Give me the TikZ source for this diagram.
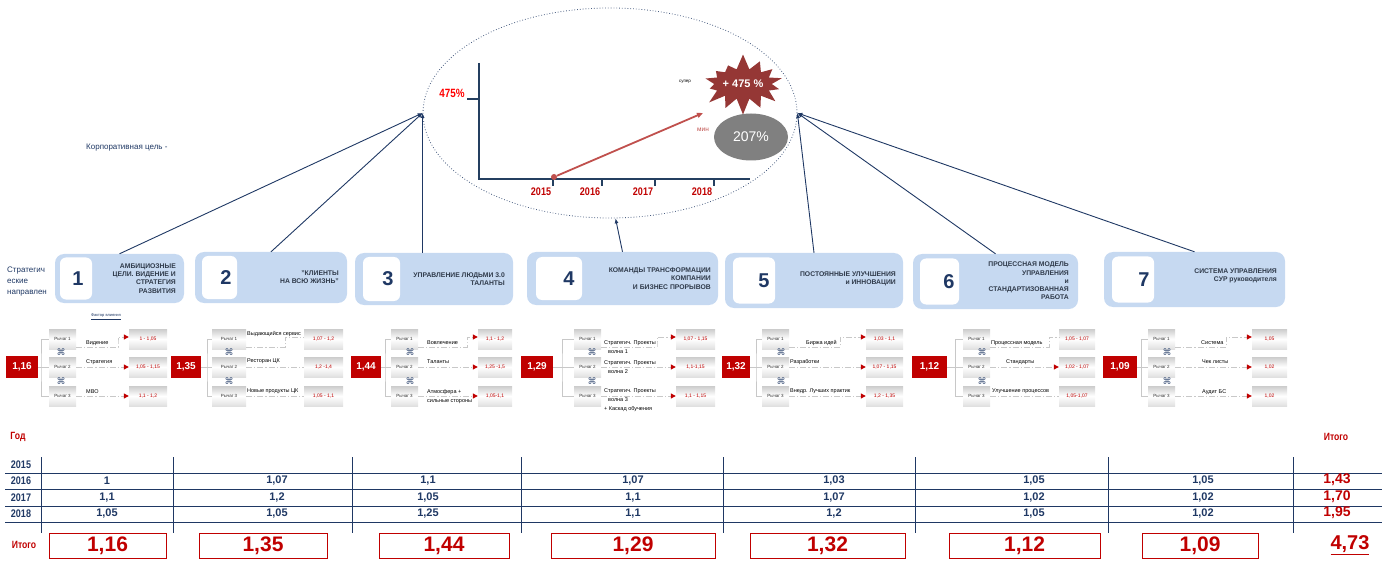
\documentclass[tikz,border=0pt]{standalone}
\usepackage{fontspec}
\setmainfont{Liberation Sans}
\newfontfamily\narrowfont[FakeStretch=0.82]{Liberation Sans}
\newfontfamily\symfont{DejaVu Sans}
\usetikzlibrary{arrows.meta,positioning,calc,shapes.geometric,shapes.symbols}
\definecolor{navy}{HTML}{1F3864}
\definecolor{axisblue}{HTML}{243F60}
\definecolor{boxblue}{HTML}{C6D9F1}
\definecolor{boxtext}{HTML}{2F3A4A}
\definecolor{darkred}{HTML}{C00000}
\definecolor{starred}{HTML}{953735}
\definecolor{trendred}{HTML}{C0504D}
\definecolor{linkgray}{HTML}{C8C8C8}
\tikzset{
  dirbox/.style={fill=boxblue, rounded corners=9pt, inner sep=0pt},
  numsq/.style={fill=white, rounded corners=6pt, inner sep=0pt},
  numtxt/.style={font=\fontsize{20}{20}\selectfont\bfseries, text=navy, inner sep=0pt},
  dirtxt/.style={font=\fontsize{6.8}{8.3}\selectfont\bfseries, text=boxtext, align=right, anchor=east, inner sep=0pt},
  goalarrow/.style={-{Latex[length=5pt,width=4pt]}, navy, line width=0.9pt},
  axis/.style={axisblue, line width=2.2pt},
  chartyear/.style={font=\narrowfont\bfseries\fontsize{11}{11}\selectfont, text=darkred, inner sep=0pt},
  redbox/.style={fill=darkred, text=white, font=\fontsize{10}{10}\selectfont\bfseries, minimum height=22pt, inner sep=0pt},
  lever/.style={top color=black!20, bottom color=black!12, middle color=white, minimum height=20pt, inner sep=0pt, font=\fontsize{4.5}{5}\selectfont, text=black!80},
  result/.style={top color=black!20, bottom color=black!12, middle color=white, minimum height=20pt, inner sep=0pt, font=\fontsize{5}{5}\selectfont, text=darkred},
  brk/.style={linkgray, line width=1pt},
  lnk/.style={linkgray, line width=1pt, dash pattern=on 6pt off 2pt on 1.2pt off 2pt},
  redtip/.style={-{Triangle[length=5pt,width=5pt,color=darkred]}},
  notip/.style={},
  lvlbl/.style={font=\fontsize{5.5}{9}\selectfont, anchor=west, inner sep=0pt, align=left},
  knot/.style={font=\symfont\fontsize{9}{9}\selectfont, text=navy!85, inner sep=0pt},
  grid/.style={navy, line width=1pt},
  yearlbl/.style={font=\narrowfont\bfseries\fontsize{11}{11}\selectfont, text=navy},
  cellval/.style={font=\bfseries\fontsize{11}{11}\selectfont, text=navy},
  totval/.style={font=\bfseries\fontsize{14}{14}\selectfont, text=darkred},
  redlbl/.style={font=\narrowfont\bfseries\fontsize{10.5}{10.5}\selectfont, text=darkred},
  sumbox/.style={draw=darkred, line width=0.8pt, minimum height=25pt, inner sep=0pt, font=\bfseries\fontsize{21}{21}\selectfont, text=darkred}
}
\begin{document}
\begin{tikzpicture}[x=1pt, y=-1pt]
\useasboundingbox (0,0) rectangle (1382,564);
% goal ellipse with chart
\node[draw=navy!80, dotted, line width=0.8pt, ellipse, minimum width=374pt, minimum height=210pt] (goal) at (610,113) {};
\coordinate (org) at (479,179);
\draw[axis] (479,63) -- (org) -- (750,179);
\draw[axis] (467,99) -- (479,99);
\node[font=\narrowfont\bfseries\fontsize{12}{12}\selectfont, text=red, inner sep=0pt] (pct) at (452,93) {475\%};
\foreach \x/\lx/\t in {553/541/2015,602/590/2016,655/643/2017,714/702/2018}{
  \draw[axis] (\x,179) -- (\x,186);
  \node[chartyear] (yr\t) at (\lx,192) {\t};
}
\node[circle, fill=trendred, inner sep=0pt, minimum size=6pt] (start) at (554,177) {};
\coordinate (trendend) at (703,113);
\draw[trendred, line width=1.8pt, -{Triangle[length=6pt,width=5pt]}] (start) -- (trendend);
\node[starburst, fill=starred, minimum width=82pt, minimum height=62pt, starburst point height=16pt, starburst points=14, random starburst=7, inner sep=0pt, text=white, font=\bfseries\fontsize{11}{11}\selectfont] (super) at (743,84) {+ 475 \%};
\node[font=\fontsize{4.5}{5}\selectfont, inner sep=0pt] (superlbl) at (685,82) {супер};
\node[ellipse, fill=black!50, minimum width=74pt, minimum height=47pt, inner sep=0pt, text=white, font=\fontsize{14}{14}\selectfont] (minval) at (751,137) {207\%};
\node[font=\fontsize{6.5}{7}\selectfont, text=trendred, inner sep=0pt] (minlbl) at (703,130) {мин};
\node[anchor=west, font=\fontsize{8}{9}\selectfont, text=navy, inner sep=0pt] (corp) at (86,148) {Корпоративная цель -};
% direction boxes
\node[anchor=west, align=left, font=\fontsize{8}{11}\selectfont, text=navy, inner sep=0pt] (dirlbl) at (7,282) {Стратегич\\еские\\направлен};
\foreach \i/\cx/\cy/\w/\h/\qx/\qw/\qh/\nx/\tx/\ty/\t in {
  1/119.5/278.5/129/49/76/32/42/78/176/278.5/{АМБИЦИОЗНЫЕ\\ЦЕЛИ. ВИДЕНИЕ И\\СТРАТЕГИЯ\\РАЗВИТИЯ},
  2/271/277.5/152/51/219.5/35/43/226/339/277/{"КЛИЕНТЫ\\НА ВСЮ ЖИЗНЬ"},
  3/434/279/158/52/381.5/37/44/388/505/279/{УПРАВЛЕНИЕ ЛЮДЬМИ 3.0\\ТАЛАНТЫ},
  4/622.5/278.5/191/53/559/46/43/569/711/278.5/{КОМАНДЫ ТРАНСФОРМАЦИИ\\КОМПАНИИ\\И БИЗНЕС ПРОРЫВОВ},
  5/814/280.5/178/55/754/42/46/764/896/279/{ПОСТОЯННЫЕ УЛУЧШЕНИЯ\\и ИННОВАЦИИ},
  6/995.5/281.5/165/55/939.5/39/46/949/1069/281/{ПРОЦЕССНАЯ МОДЕЛЬ\\УПРАВЛЕНИЯ\\и\\СТАНДАРТИЗОВАННАЯ\\РАБОТА},
  7/1194.5/279.5/181/55/1133/42/46/1144/1277/276/{СИСТЕМА УПРАВЛЕНИЯ\\СУР руководителя}}{
  \node[dirbox, minimum width=\w, minimum height=\h] (box\i) at (\cx,\cy) {};
  \node[numsq, minimum width=\qw, minimum height=\qh] (sq\i) at (\qx,\cy) {};
  \node[numtxt] (num\i) at (\nx,\cy) {\i};
  \node[dirtxt] (txt\i) at (\tx,\ty) {\t};
}
\draw[goalarrow] (box1.north) -- (goal.west);
\draw[goalarrow] (box2.north) -- (goal.west);
\draw[goalarrow] (box3.north -| goal.west) -- (goal.west);
\draw[goalarrow] (box4.north) -- (goal.-87);
\draw[goalarrow] (box5.north) -- (goal.east);
\draw[goalarrow] (box6.north) -- (goal.east);
\draw[goalarrow] (box7.north) -- (goal.east);
% lever blocks
\node[font=\fontsize{4}{4}\selectfont, text=navy, inner sep=0pt] (factor) at (106,317) {\underline{Фактор влияния}};
\foreach \i/\rx/\rw/\rv/\bx/\lx/\lw/\sx/\kx/\ex/\ew/\va/\vb/\vc/\ta/\tb/\tc in {
  1/22/32/{1,16}/41/62.5/27/61/118/148/38/{1 - 1,05}/{1,05 - 1,15}/{1,1 - 1,2}/redtip/redtip/redtip,
  2/186/30/{1,35}/207/229/34/229/285/323.5/39/{1,07 - 1,2}/{1,2 -1,4}/{1,05 - 1,1}/notip/notip/notip,
  3/366/30/{1,44}/385/404.5/27/410/467/495/34/{1,1 - 1,2}/{1,25 -1,5}/{1,05-1,1}/redtip/redtip/redtip,
  4/537/32/{1,29}/562/587.5/27/592/657/695.5/39/{1,07 - 1,15}/{1,1-1,15}/{1,1 - 1,15}/redtip/redtip/redtip,
  5/736/28/{1,32}/756/775.5/27/781/840/884.5/37/{1,03 - 1,1}/{1,07 - 1,15}/{1,2 - 1,35}/redtip/redtip/redtip,
  6/929.5/35/{1,12}/955/976.5/27/982/1049/1077/36/{1,05 - 1,07}/{1,02 - 1,07}/{1,05-1,07}/notip/redtip/notip,
  7/1120/34/{1,09}/1141/1161.5/27/1167/1226/1269.5/35/{1,05}/{1,02}/{1,02}/redtip/redtip/redtip}{
  \node[redbox, minimum width=\rw] (r\i) at (\rx,367) {\rv};
  \node[lever, minimum width=\lw] (lv\i-1) at (\lx,339) {Рычаг 1};
  \node[lever, minimum width=\lw] (lv\i-2) at (\lx,367) {Рычаг 2};
  \node[lever, minimum width=\lw] (lv\i-3) at (\lx,396) {Рычаг 3};
  \node[result, minimum width=\ew] (res\i-1) at (\ex,339) {\va};
  \node[result, minimum width=\ew] (res\i-2) at (\ex,367) {\vb};
  \node[result, minimum width=\ew] (res\i-3) at (\ex,396) {\vc};
  \coordinate (b\i) at (\bx,367);
  \coordinate (k\i) at (\kx,342);
  \draw[brk] (r\i.east) -- (lv\i-2.west);
  \draw[brk] (lv\i-1.west) -| (b\i) |- (lv\i-3.west);
  \draw[lnk,\ta] ([yshift=-8pt]lv\i-1.east) -| (k\i) |- ([yshift=2pt]res\i-1.west);
  \draw[lnk,\tb] (lv\i-2.east) -- (res\i-2.west);
  \draw[lnk,\tc] (lv\i-3.east) -- (res\i-3.west);
  \node[knot] (ka\i) at (\sx,352) {⌘};
  \node[knot] (kb\i) at (\sx,381) {⌘};
}
% lever labels
\node[lvlbl] (lb1-1) at (86,343) {Видение};
\node[lvlbl] (lb1-2) at (86,362) {Стратегия};
\node[lvlbl] (lb1-3) at (86,392) {МВО};
\node[lvlbl] (lb2-1) at (247,334) {Выдающийся сервис};
\node[lvlbl] (lb2-2) at (247,361) {Ресторан ЦК};
\node[lvlbl] (lb2-3) at (247,391) {Новые продукты ЦК};
\node[lvlbl] (lb3-1) at (427,343) {Вовлечение};
\node[lvlbl] (lb3-2) at (427,362) {Таланты};
\node[lvlbl] (lb3-3) at (427,396.5) {Атмосфера +\\сильные стороны};
\node[lvlbl] (lb4-1) at (604,347.5) {Стратегич. Проекты\\\hspace{4pt}волна 1};
\node[lvlbl] (lb4-2) at (604,367) {Стратегич. Проекты\\\hspace{4pt}волна 2};
\node[lvlbl] (lb4-3) at (604,400) {Стратегич. Проекты\\\hspace{4pt}волна 3\\+ Каскад обучения};
\node[lvlbl] (lb5-1) at (806,343) {Биржа идей};
\node[lvlbl] (lb5-2) at (790,362) {Разработки};
\node[lvlbl] (lb5-3) at (790,391) {Внедр. Лучших практик};
\node[lvlbl] (lb6-1) at (991,343) {Процессная модель};
\node[lvlbl] (lb6-2) at (1006,362) {Стандарты};
\node[lvlbl] (lb6-3) at (992,391) {Улучшение процессов};
\node[lvlbl] (lb7-1) at (1201,343) {Система};
\node[lvlbl] (lb7-2) at (1202,362) {Чек листы};
\node[lvlbl] (lb7-3) at (1202,392) {Аудит БС};
% table
\node[redlbl] (yearhd) at (18,437) {Год};
\node[redlbl] (tothd) at (1336,437) {Итого};
\foreach \y in {473,489,506,522} \draw[grid] (5,\y) -- (1382,\y);
\foreach \x in {41,173,352,521,723,915,1108,1293} \draw[grid] (\x,457) -- (\x,533);
\foreach \y/\t in {465/2015,481/2016,497.5/2017,514/2018} \node[yearlbl] (yr-\t) at (21,\y) {\t};
\foreach \x/\v [count=\c] in {107/1,277/{1,07},428/{1,1},633/{1,07},834/{1,03},1034/{1,05},1203/{1,05}}
  \node[cellval] (v16-\c) at (\x,481) {\v};
\foreach \x/\v [count=\c] in {107/{1,1},277/{1,2},428/{1,05},633/{1,1},834/{1,07},1034/{1,02},1203/{1,02}}
  \node[cellval] (v17-\c) at (\x,497.5) {\v};
\foreach \x/\v [count=\c] in {107/{1,05},277/{1,05},428/{1,25},633/{1,1},834/{1,2},1034/{1,05},1203/{1,02}}
  \node[cellval] (v18-\c) at (\x,514) {\v};
\node[totval] (t16) at (1337,480) {1,43};
\node[totval] (t17) at (1337,496.5) {1,70};
\node[totval] (t18) at (1337,513) {1,95};
% totals row
\node[redlbl] (sumhd) at (24,545) {Итого};
\foreach \x/\w/\v [count=\c] in {107.5/117/{1,16},263/128/{1,35},444/130/{1,44},633/164/{1,29},827.5/155/{1,32},1024.5/151/{1,12},1200/116/{1,09}}
  \node[sumbox, minimum width=\w] (sum\c) at (\x,545.5) {\v};
\node[font=\bfseries\fontsize{20}{20}\selectfont, text=darkred] (grand) at (1350,545) {\underline{4,73}};
\end{tikzpicture}
\end{document}
